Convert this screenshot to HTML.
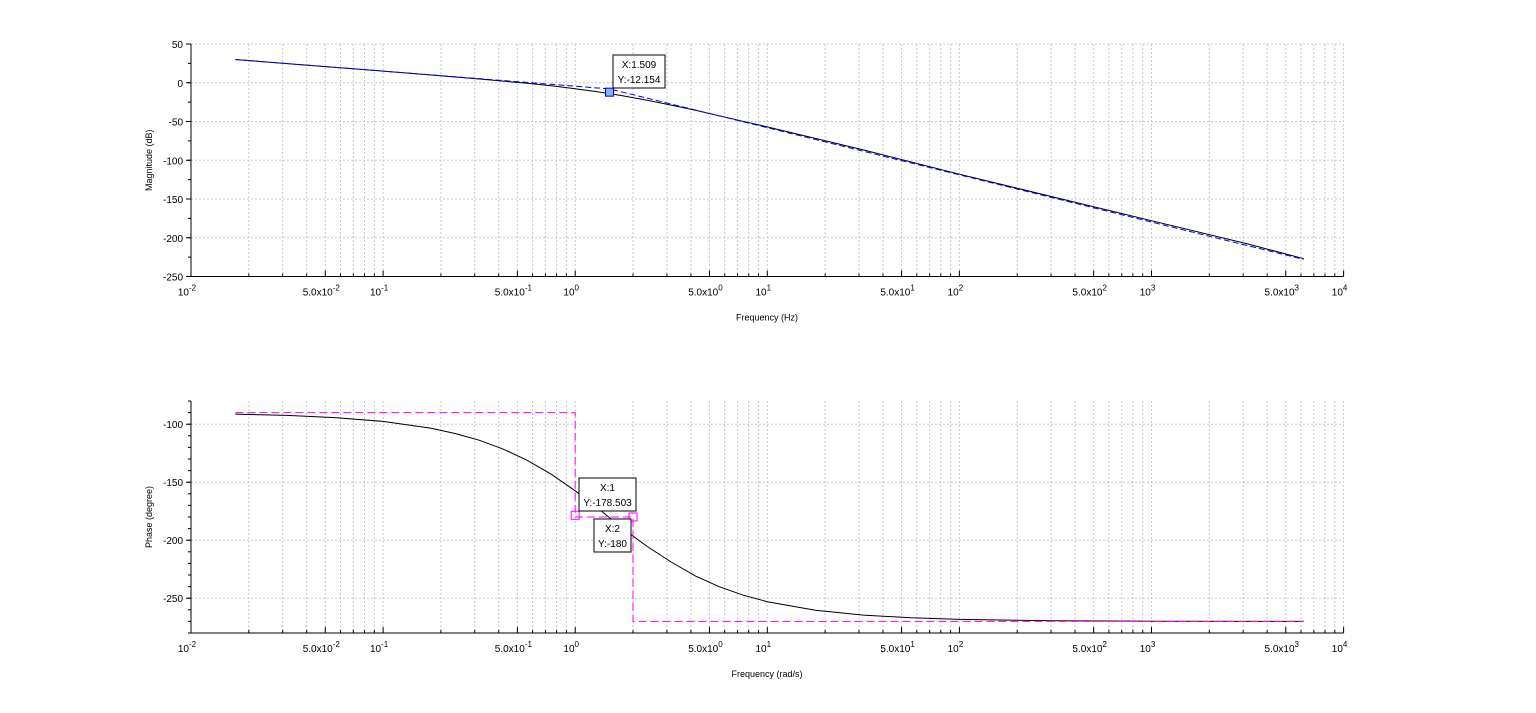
<!DOCTYPE html>
<html><head><meta charset="utf-8"><style>
html,body{margin:0;padding:0;background:#fff;}
svg{display:block;font-family:"Liberation Sans",sans-serif;}
</style></head><body>
<svg id="c" width="1536" height="713"></svg>
<script>
const magFreqs=[0.017,0.0316,0.0562,0.1,0.178,0.316,0.562,0.75,1,1.33,1.78,2.37,3.16,4.22,5.62,10,31.6,100,316,1000,3162,6200];
const magDb=[30,24.7,19.8,15.0,10.0,4.8,-0.7,-4.0,-7.7,-11.9,-17.0,-22.6,-28.9,-35.6,-42.7,-57.0,-86.7,-118,-148,-178,-208,-227];
const phFreqs=[0.017,0.0316,0.0562,0.1,0.178,0.237,0.316,0.42,0.562,0.75,1,1.33,1.78,2.37,3.16,4.22,5.62,7.5,10,17.8,31.6,56,100,316,1000,6200];
const phaseDeg=[-91.3,-92.4,-94.3,-97.6,-103.5,-108,-113.8,-121.3,-131.1,-143.1,-157.4,-173.2,-190.3,-205.4,-218.8,-230.8,-240.1,-247.4,-253,-260.4,-264.6,-266.9,-268.3,-269.5,-269.8,-270];
const magAsymF=[0.017,1.509,6200];
const magAsymDb=[30,-8,-228];
const phAsymF=[0.017,1,1,2,2,6200];
const phAsymDeg=[-90,-90,-180,-180,-270,-270];
const magTicks=[50,0,-50,-100,-150,-200,-250];
const phTicks=[-100,-150,-200,-250];
const decades=[-2,-1,0,1,2,3,4];

const NS="http://www.w3.org/2000/svg";
const svg=document.getElementById('c');
function el(t,a,p){const e=document.createElementNS(NS,t);for(const k in a)e.setAttribute(k,a[k]);(p||svg).appendChild(e);return e;}
const X0=191,DEC=192.1;
function xs(f){return X0+(Math.log10(f)+2)*DEC;}

function panel(name,yTop,yBot,vTop,vBot,ticks,minorStep,xTitle,yTitle){
  const g=el('g',{});
  
  
  const ys=v=>yTop+(vTop-v)/(vTop-vBot)*(yBot-yTop);
  const xR=xs(1e4);
  for(let d=-2;d<4;d++)for(let m=1;m<10;m++){const x=xs(m*Math.pow(10,d));if(x<=X0+1)continue;
    el('line',{x1:x,y1:yTop,x2:x,y2:yBot,stroke:'#c8c8c8','stroke-dasharray':'2,2','stroke-width':1},g);}
  el('line',{x1:xR,y1:yTop,x2:xR,y2:yBot,stroke:'#c8c8c8','stroke-dasharray':'2,2'},g);
  ticks.forEach(v=>{const y=ys(v);
    el('line',{x1:X0,y1:y,x2:xR,y2:y,stroke:'#c8c8c8','stroke-dasharray':'2,2'},g);
    el('line',{x1:X0-5,y1:y,x2:X0,y2:y,stroke:'#000'},g);
    const t=el('text',{x:X0-8,y:y+4,'text-anchor':'end','font-size':10},g);t.textContent=v;
    
    });
  for(let v=vBot;v<=vTop;v+=minorStep){const y=ys(v);el('line',{x1:X0-3,y1:y,x2:X0,y2:y,stroke:'#000'},g);}
  el('line',{x1:X0,y1:yTop,x2:X0,y2:yBot,stroke:'#000'},g);
  el('line',{x1:X0,y1:yBot,x2:xR,y2:yBot,stroke:'#000'},g);
  for(let d=-2;d<4;d++)for(let m=1;m<10;m++){const x=xs(m*Math.pow(10,d));
    el('line',{x1:x,y1:yBot,x2:x,y2:yBot-(m==1||m==5?6:3),stroke:'#000'},g);}
  el('line',{x1:xR,y1:yBot,x2:xR,y2:yBot-6,stroke:'#000'},g);
  decades.forEach(d=>{const x=xs(Math.pow(10,d));
    const t=el('text',{x:x-4,y:yBot+19,'text-anchor':'middle','font-size':10},g);
    
    
    t.innerHTML='10<tspan dy="-5" font-size="8">'+d+'</tspan>';
    if(d<4){const x5=xs(5*Math.pow(10,d));
      const t2=el('text',{x:x5-4,y:yBot+19,'text-anchor':'middle','font-size':10},g);
      
      
      t2.innerHTML='5.0x10<tspan dy="-5" font-size="8">'+d+'</tspan>';}
  });
  const xt=el('text',{x:767,y:yBot+44,'text-anchor':'middle','font-size':9},g);xt.textContent=xTitle;
  
  
  const yc=(yTop+yBot)/2;
  const yt=el('text',{x:152,y:yc,'text-anchor':'middle','font-size':9,transform:'rotate(-90 152 '+yc+')'},g);yt.textContent=yTitle;
  
  
  return {g,ys};
}
function pathOf(fa,va,ys){return fa.map((f,i)=>(i?'L':'M')+xs(f).toFixed(1)+','+ys(va[i]).toFixed(1)).join(' ');}
function tip(g,x,y,w,h,l1,l2,name){
  const b=el('g',{},g);
  
  
  el('rect',{x:x,y:y,width:w,height:h,fill:'#fff',stroke:'#000'},b);
  const a=el('text',{x:x+w/2,y:y+13,'text-anchor':'middle','font-size':10},b);a.textContent=l1;
  const c=el('text',{x:x+w/2,y:y+28,'text-anchor':'middle','font-size':10},b);c.textContent=l2;
}

const p1=panel('magnitude-plot',44,276.5,50,-250,magTicks,25,'Frequency (Hz)','Magnitude (dB)');
const m1=el('path',{d:pathOf(magFreqs,magDb,p1.ys),fill:'none',stroke:'#000','stroke-width':1},p1.g);


const m2=el('path',{d:pathOf(magAsymF,magAsymDb,p1.ys),fill:'none',stroke:'#0000ff','stroke-width':1,'stroke-dasharray':'6,3'},p1.g);


const mk=el('rect',{x:xs(1.509)-4,y:p1.ys(-12.154)-4,width:8,height:8,fill:'#8ab0ff',stroke:'#0000cc'},p1.g);


tip(p1.g,613,55,52,33,'X:1.509','Y:-12.154','magnitude-datatip');

const p2=panel('phase-plot',401,633,-80,-280,phTicks,10,'Frequency (rad/s)','Phase (degree)');
const ph=el('path',{d:pathOf(phFreqs,phaseDeg,p2.ys),fill:'none',stroke:'#000','stroke-width':1},p2.g);


const pa=el('path',{d:pathOf(phAsymF,phAsymDeg,p2.ys),fill:'none',stroke:'#ff00ff','stroke-width':1,'stroke-dasharray':'8,4'},p2.g);


[[1,-178.503],[2,-180]].forEach(([f,v])=>{
  const r=el('rect',{x:xs(f)-4,y:p2.ys(v)-4,width:8,height:8,fill:'none',stroke:'#ff00ff'},p2.g);
  
  
});
tip(p2.g,579,478,57,33,'X:1','Y:-178.503','phase-datatip-1');
tip(p2.g,594,519,37,33,'X:2','Y:-180','phase-datatip-2');
</script>
</body></html>
